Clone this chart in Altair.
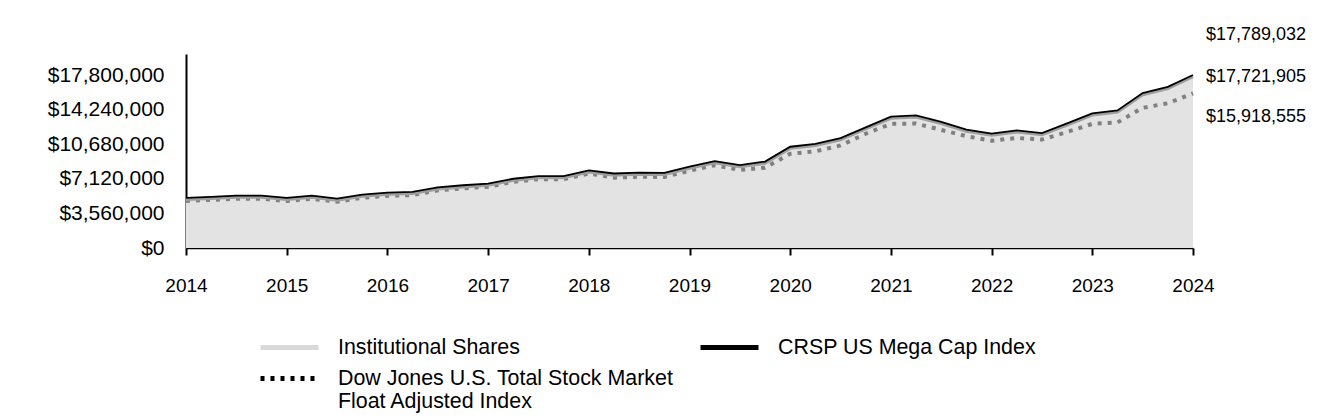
import altair as alt
import pandas as pd

# quarterly periods (fractional years)
quarters = [2014 + i / 4 for i in range(41)]

inst_m = [5.00, 5.11, 5.23, 5.23, 5.00, 5.23, 4.93, 5.34, 5.54, 5.61, 6.09, 6.30, 6.46, 6.97,
          7.25, 7.25, 7.84, 7.51, 7.61, 7.58, 8.22, 8.79, 8.38, 8.74, 10.27, 10.56, 11.16,
          12.27, 13.37, 13.50, 12.83, 12.04, 11.62, 11.96, 11.68, 12.68, 13.70, 14.01, 15.80,
          16.44, 17.66]
crsp_m = [5.17, 5.28, 5.40, 5.40, 5.17, 5.40, 5.10, 5.51, 5.71, 5.78, 6.26, 6.47, 6.63, 7.14,
          7.42, 7.42, 8.01, 7.68, 7.78, 7.75, 8.39, 8.96, 8.55, 8.91, 10.44, 10.73, 11.33,
          12.44, 13.54, 13.67, 13.00, 12.21, 11.79, 12.13, 11.85, 12.85, 13.87, 14.18, 15.97,
          16.61, 17.84]
dj_m = [4.85, 4.96, 5.08, 5.08, 4.84, 5.08, 4.77, 5.18, 5.39, 5.46, 5.94, 6.15, 6.31, 6.82,
        7.10, 7.10, 7.68, 7.25, 7.35, 7.32, 7.97, 8.53, 8.05, 8.28, 9.71, 9.97, 10.57, 11.78,
        12.80, 12.83, 12.17, 11.53, 11.06, 11.35, 11.18, 11.96, 12.80, 12.94, 14.45, 14.92,
        15.95]

INST = "Institutional Shares"
CRSP = "CRSP US Mega Cap Index"
DJ = "Dow Jones U.S. Total Stock Market|Float Adjusted Index"
end_labels = ["$17,721,905", "$17,789,032", "$15,918,555"]
y_ticks = [0, 3560000, 7120000, 10680000, 14240000, 17800000]
x_ticks = list(range(2014, 2025))

FONT = "Liberation Sans"

df = pd.DataFrame({
    "t": quarters,
    "inst": [v * 1e6 for v in inst_m],
    "crsp": [v * 1e6 for v in crsp_m],
    "dj": [v * 1e6 for v in dj_m],
})
long_a = pd.concat([
    pd.DataFrame({"t": quarters, "v": df["inst"], "s": INST}),
    pd.DataFrame({"t": quarters, "v": df["crsp"], "s": CRSP}),
])
long_b = pd.DataFrame({"t": quarters, "v": df["dj"], "s2": DJ})

xs = alt.Scale(domain=[2014, 2024], nice=False, zero=False)
ys = alt.Scale(domain=[0, 20000000], nice=False)

x_axis = alt.Axis(values=x_ticks, format="d", title=None, grid=False,
                  labelFontSize=19, labelPadding=21, tickSize=7,
                  tickWidth=2, tickColor="#000", domainColor="#000",
                  domainWidth=1.5, labelColor="#000", labelFont=FONT,
                  labelFlush=False, labelOverlap=False)
y_axis = alt.Axis(values=y_ticks, format="$,.0f", title=None,
                  grid=False, ticks=False, tickSize=0,
                  labelFontSize=21, labelPadding=22,
                  domainColor="#000", domainWidth=2,
                  labelColor="#000", labelFont=FONT,
                  labelOverlap=False, labelFlush=False)


def xq():
    return alt.X("t:Q", scale=xs, axis=x_axis)


def yq(field):
    return alt.Y(field, scale=ys, axis=y_axis)


base = alt.Chart(df)
area = base.mark_area(color="#e3e3e3").encode(x=xq(), y=yq("inst:Q"))
dj_line = base.mark_line(color="#808080", strokeWidth=4, strokeDash=[4, 6]).encode(
    x=xq(), y=yq("dj:Q"))
inst_line = base.mark_line(color="#9e9e9e", strokeWidth=3).encode(
    x=xq(), y=yq("inst:Q"))
crsp_line = base.mark_line(color="#000000", strokeWidth=1.8).encode(
    x=xq(), y=yq("crsp:Q"))

leg_common = dict(title=None, orient="none", symbolType="stroke", symbolSize=3364,
                  symbolStrokeWidth=5, symbolOpacity=1, labelOffset=17,
                  labelFontSize=21.4, labelFont=FONT, labelColor="#000", labelLimit=600)

legend_a = alt.Chart(long_a).mark_line(opacity=0).encode(
    x=xq(), y=yq("v:Q"),
    color=alt.Color("s:N", sort=[INST, CRSP],
                    scale=alt.Scale(domain=[INST, CRSP], range=["#d9d9d9", "#000000"]),
                    legend=alt.Legend(legendX=72, legendY=262, columns=2, columnPadding=170,
                                      **leg_common)),
)
legend_b = alt.Chart(long_b).mark_line(opacity=0, color="#000000").encode(
    x=xq(), y=yq("v:Q"),
    strokeDash=alt.StrokeDash("s2:N",
                              scale=alt.Scale(domain=[DJ], range=[[4, 6]]),
                              legend=alt.Legend(legendX=72, legendY=293,
                                                symbolStrokeColor="#000000",
                                                labelExpr="split(datum.label, '|')",
                                                **leg_common)),
)

end_df = pd.DataFrame({"t": [quarters[-1]] * 3,
                       "v": [inst_m[-1] * 1e6, crsp_m[-1] * 1e6, dj_m[-1] * 1e6],
                       "lab": end_labels})
texts = []
for i, dy in enumerate([0, -40, 24]):
    texts.append(alt.Chart(end_df.iloc[[i]]).mark_text(
        align="left", baseline="middle", dx=13, dy=dy, fontSize=18, font=FONT, color="#000"
    ).encode(x=xq(), y=yq("v:Q"), text="lab:N"))

chart = alt.layer(area, dj_line, inst_line, crsp_line, legend_a, legend_b, *texts).properties(
    width=1007, height=194,
    autosize=alt.AutoSizeParams(type="none"),
    padding={"left": 178, "top": 46, "right": 140, "bottom": 170},
).configure_view(stroke=None).configure_axis(labelFont=FONT, labelOverlap=False)

chart.save("out.html", embed_options={"renderer": "svg", "actions": False})
